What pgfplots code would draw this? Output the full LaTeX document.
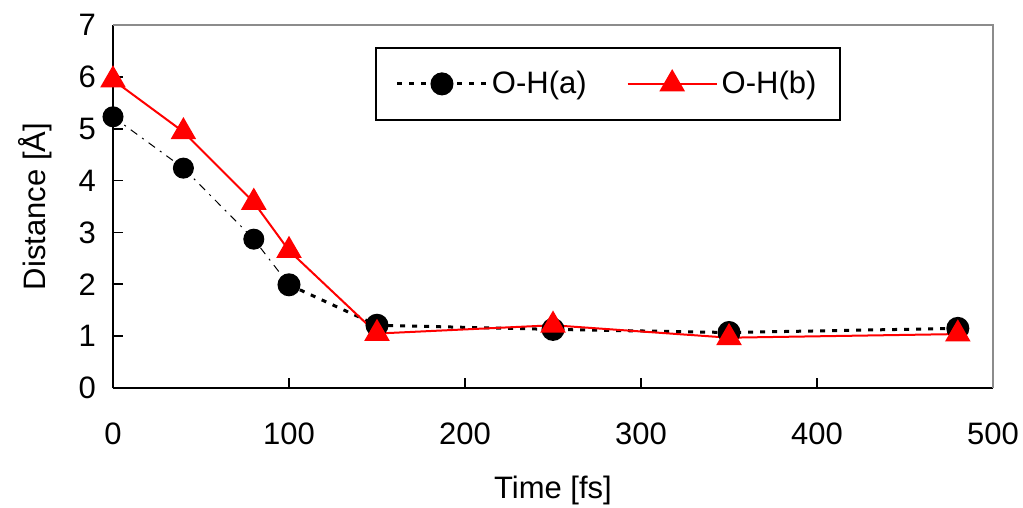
\documentclass[border=0pt]{standalone}
\usepackage{fontspec}
\setmainfont{Liberation Sans}
\usepackage{pgfplots}
\pgfplotsset{compat=1.18}
\usetikzlibrary{calc}
\definecolor{frame}{HTML}{8C8C8C}
\begin{document}
\begin{tikzpicture}
\begin{axis}[name=ax, scale only axis, width=440pt, height=181.5pt,
  xmin=0, xmax=500, ymin=0, ymax=7,
  xtick={0,100,...,500}, ytick={0,1,...,7},
  axis lines=left, axis line style={-, black, line width=1pt},
  tick align=inside, major tick length=5pt, tick style={black, line width=0.8pt},
  /pgf/number format/assume math mode=true,
  tick label style={font=\fontsize{15.5}{18}\selectfont},
  xticklabel style={yshift=-14pt},
  yticklabel style={xshift=-5pt},
  xlabel={Time [fs]}, ylabel={Distance [Å]},
  every axis x label/.style={at={(rel axis cs:0.5,0)}, yshift=-51pt, anchor=center, font=\fontsize{15.5}{18}\selectfont},
  every axis y label/.style={at={(rel axis cs:0,0.5)}, xshift=-39pt, rotate=90, anchor=center, font=\fontsize{15.5}{18}\selectfont},
  legend columns=2,
  legend style={at={(0.2977,0.939)}, anchor=north west, draw=black, line width=1pt,
    inner xsep=10pt, inner ysep=9.5pt, font=\fontsize{15.5}{18}\selectfont,
    /tikz/every even column/.append style={column sep=18pt}},
  legend cell align=left,
  legend image code/.code={\draw[mark repeat=2, mark phase=2] plot coordinates {(0pt,0pt) (22.25pt,0pt) (44.5pt,0pt)};},
  clip=false]
% early part of O-H(a), thin broken line
\addplot[black, line width=0.5pt, dash pattern=on 4pt off 3pt on 1pt off 3pt,
  mark=*, mark size=5pt, mark options={solid, fill=black}, forget plot]
  coordinates {(0,5.23) (40,4.24) (80,2.87) (100,1.99)};
\addplot[black, line width=1.5pt, dash pattern=on 2.5pt off 3.5pt,
  mark=*, mark size=5pt, mark options={solid, fill=black}]
  coordinates {(100,1.99) (150,1.21) (250,1.13) (350,1.07) (480,1.15)};
\addlegendentry{O-H(a)}
\addplot[red, line width=1pt, mark=triangle*, mark size=6.4pt, mark options={solid, fill=red}]
  coordinates {(0,5.94) (40,4.94) (80,3.58) (100,2.65) (150,1.05) (250,1.21) (350,0.97) (480,1.04)};
\addlegendentry{O-H(b)}
\end{axis}
\draw[frame, line width=0.8pt] (ax.north west) -- (ax.north east) -- (ax.south east);
\pgfresetboundingbox
\path[use as bounding box] ($(ax.south west)+(-56.5pt,-59.5pt)$) rectangle ($(ax.north east)+(15pt,12.5pt)$);
\end{tikzpicture}
\end{document}
